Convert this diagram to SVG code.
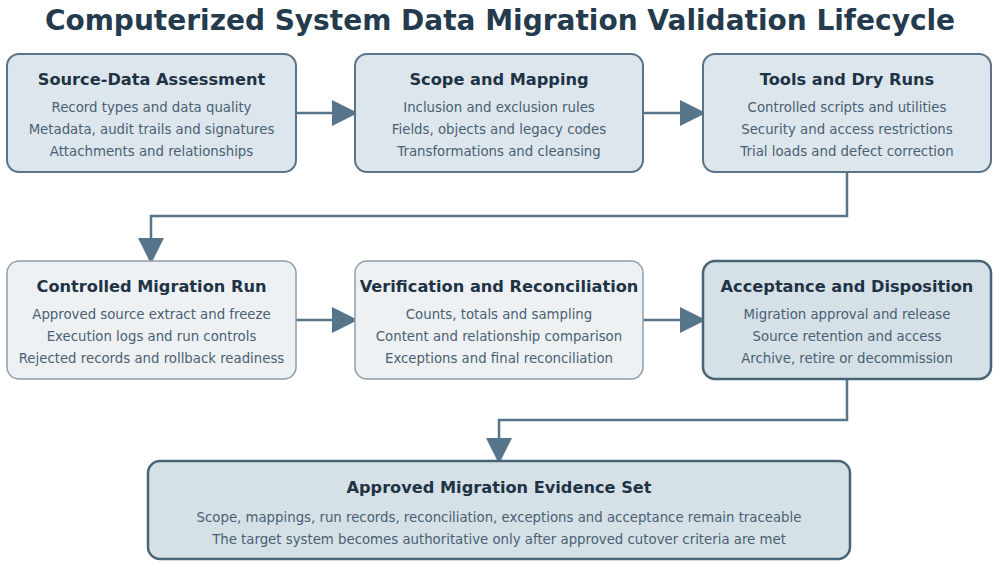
<svg xmlns="http://www.w3.org/2000/svg" width="1000" height="567" viewBox="0 0 1000 567">
<style>
.t{font-family:"DejaVu Sans",sans-serif;font-weight:bold;fill:#1f3345;text-anchor:middle;font-size:16.2px}
.l{font-family:"DejaVu Sans",sans-serif;fill:#4a6072;text-anchor:middle;font-size:13.3px}
.a{fill:#dde6ed;stroke:#5a7387;stroke-width:2}
.b{fill:#edf1f4;stroke:#8ea0af;stroke-width:1.5}
.c{fill:#d5e1e7;stroke:#4a6477;stroke-width:2.5}
.e{fill:none;stroke:#56758b;stroke-width:2.5}
</style>
<defs><marker id="m" markerUnits="userSpaceOnUse" markerWidth="26" markerHeight="26" refX="24" refY="13" orient="auto"><path d="M0,0 L26,13 L0,26z" fill="#56758b"/></marker></defs>
<rect width="1000" height="567" fill="#fff"/>
<text x="500" y="30" style="font-family:'DejaVu Sans',sans-serif;font-weight:bold;font-size:28px;fill:#243a4d;text-anchor:middle">Computerized System Data Migration Validation Lifecycle</text>
<g id="connectors">
<path class="e" d="M296,113 H356" marker-end="url(#m)"/>
<path class="e" d="M643,113 H704" marker-end="url(#m)"/>
<path class="e" d="M847,172 V216 H151 V262" marker-end="url(#m)"/>
<path class="e" d="M296,320 H356" marker-end="url(#m)"/>
<path class="e" d="M643,320 H704" marker-end="url(#m)"/>
<path class="e" d="M847,379 V420 H499 V462" marker-end="url(#m)"/>
</g>
<g id="n1"><rect class="a" x="7" y="54" width="289" height="118" rx="12"/><text class="t" x="151.5" y="85">Source-Data Assessment</text><text class="l" x="151.5" y="112">Record types and data quality</text><text class="l" x="151.5" y="134">Metadata, audit trails and signatures</text><text class="l" x="151.5" y="156">Attachments and relationships</text></g>
<g id="n2"><rect class="a" x="355" y="54" width="288" height="118" rx="12"/><text class="t" x="499" y="85">Scope and Mapping</text><text class="l" x="499" y="112">Inclusion and exclusion rules</text><text class="l" x="499" y="134">Fields, objects and legacy codes</text><text class="l" x="499" y="156">Transformations and cleansing</text></g>
<g id="n3"><rect class="a" x="703" y="54" width="288" height="118" rx="12"/><text class="t" x="847" y="85">Tools and Dry Runs</text><text class="l" x="847" y="112">Controlled scripts and utilities</text><text class="l" x="847" y="134">Security and access restrictions</text><text class="l" x="847" y="156">Trial loads and defect correction</text></g>
<g id="n4"><rect class="b" x="7" y="261" width="289" height="118" rx="12"/><text class="t" x="151.5" y="292">Controlled Migration Run</text><text class="l" x="151.5" y="319">Approved source extract and freeze</text><text class="l" x="151.5" y="341">Execution logs and run controls</text><text class="l" x="151.5" y="363">Rejected records and rollback readiness</text></g>
<g id="n5"><rect class="b" x="355" y="261" width="288" height="118" rx="12"/><text class="t" x="499" y="292">Verification and Reconciliation</text><text class="l" x="499" y="319">Counts, totals and sampling</text><text class="l" x="499" y="341">Content and relationship comparison</text><text class="l" x="499" y="363">Exceptions and final reconciliation</text></g>
<g id="n6"><rect class="c" x="703" y="261" width="288" height="118" rx="12"/><text class="t" x="847" y="292">Acceptance and Disposition</text><text class="l" x="847" y="319">Migration approval and release</text><text class="l" x="847" y="341">Source retention and access</text><text class="l" x="847" y="363">Archive, retire or decommission</text></g>
<g id="n7"><rect class="c" x="148" y="461" width="702" height="98" rx="12"/><text class="t" x="499" y="493">Approved Migration Evidence Set</text><text class="l" x="499" y="522">Scope, mappings, run records, reconciliation, exceptions and acceptance remain traceable</text><text class="l" x="499" y="544">The target system becomes authoritative only after approved cutover criteria are met</text></g>
</svg>
